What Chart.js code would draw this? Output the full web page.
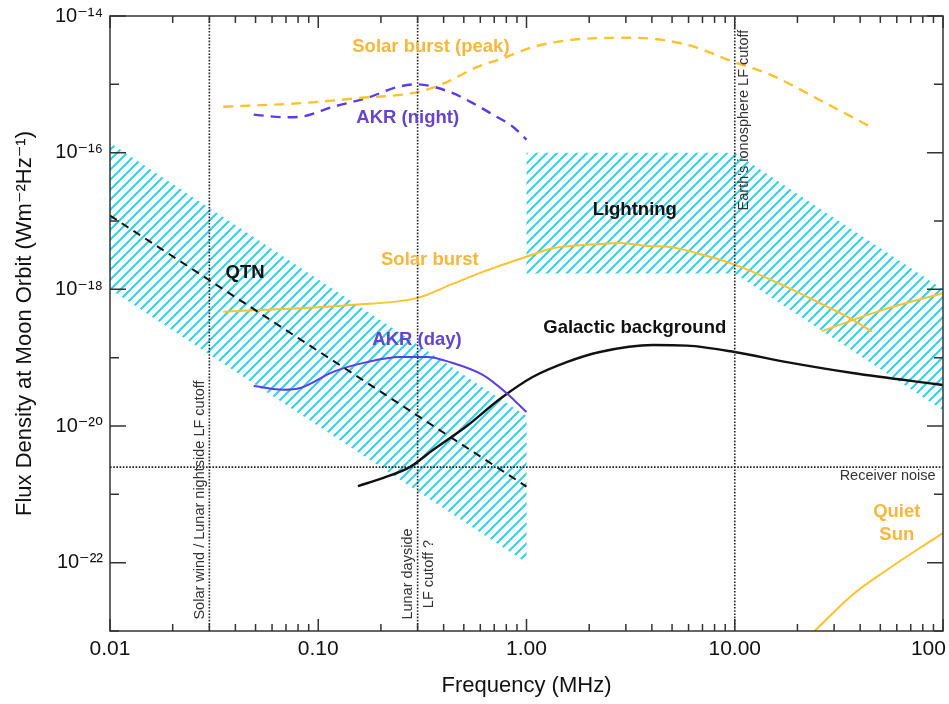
<!DOCTYPE html>
<html><head><meta charset="utf-8">
<script src="https://cdn.jsdelivr.net/npm/chart.js@4.4.1/dist/chart.umd.min.js"></script>
<style>html,body{margin:0;padding:0;background:#fff;}#wrap{width:949px;height:704px;}</style>
</head><body><div id="wrap"><canvas id="c" width="949" height="704"></canvas></div>
<script>
// ---------- data ----------
const xTickValues = [0.01, 0.1, 1, 10, 100];
const xTickLabels = ['0.01', '0.10', '1.00', '10.00', '100'];
const yTickExponents = [-22, -20, -18, -16, -14];

const cutoffFreqs = [0.03, 0.3, 10];
const receiverNoise = 2.5e-21;

const qtnFreq = [0.01, 1];
const qtnFlux = [1.2e-17, 1.3e-21];

const qtnBandFreq = [0.01, 0.01, 1, 1];
const qtnBandFlux = [1e-18, 1.4e-16, 1.4e-20, 1e-22];

const lightningBandFreq = [1, 1, 10, 100, 100, 10];
const lightningBandFlux = [1.7e-18, 1e-16, 1e-16, 1e-18, 1.7e-20, 1.7e-18];

const solarPeakFreq = [0.035, 0.082, 0.158, 0.30, 0.415, 0.58, 0.77, 1.07, 1.67, 3.2, 5.9, 10, 14.7, 25.6, 46];
const solarPeakFlux = [4.7e-16, 5.3e-16, 6.3e-16, 7.7e-16, 1.08e-15, 1.8e-15, 2.4e-15, 3.5e-15, 4.5e-15, 4.8e-15, 3.8e-15, 2.1e-15, 1.4e-15, 5.9e-16, 2.3e-16];

const akrNightFreq = [0.049, 0.07, 0.082, 0.118, 0.171, 0.239, 0.298, 0.43, 0.553, 0.69, 0.86, 1.0];
const akrNightFlux = [3.6e-16, 3.3e-16, 3.35e-16, 4.7e-16, 6.3e-16, 9.1e-16, 1.0e-15, 7.7e-16, 5.3e-16, 3.6e-16, 2.4e-16, 1.55e-16];

const solarBurstFreq = [0.035, 0.082, 0.142, 0.30, 0.43, 0.617, 1.0, 1.34, 2.25, 2.8, 3.9, 4.9, 7.0, 10, 17.8, 25.6, 36.8, 45.5];
const solarBurstFlux = [4.7e-19, 5.3e-19, 5.9e-19, 7.5e-19, 1.16e-18, 1.8e-18, 3.0e-18, 4.0e-18, 4.6e-18, 4.75e-18, 4.3e-18, 4.15e-18, 3.2e-18, 2.3e-18, 1.08e-18, 6.3e-19, 3.6e-19, 2.4e-19];

const solarHighFreq = [26.2, 51.3, 100];
const solarHighFlux = [2.45e-19, 5.0e-19, 8.8e-19];

const akrDayFreq = [0.049, 0.068, 0.082, 0.118, 0.171, 0.247, 0.332, 0.43, 0.617, 0.805, 1.0];
const akrDayFlux = [3.85e-20, 3.4e-20, 3.6e-20, 6.2e-20, 8.6e-20, 1.02e-19, 1.02e-19, 8.6e-20, 5.6e-20, 3.0e-20, 1.6e-20];

const galacticFreq = [0.155, 0.204, 0.275, 0.355, 0.517, 0.745, 1.07, 1.56, 2.25, 4.04, 5.89, 10, 17.8, 36.8, 100];
const galacticFlux = [1.32e-21, 1.73e-21, 2.5e-21, 4.45e-21, 1.0e-20, 2.48e-20, 5.2e-20, 8.6e-20, 1.21e-19, 1.53e-19, 1.5e-19, 1.21e-19, 8.6e-20, 5.96e-20, 3.98e-20];

const quietSunFreq = [24.2, 36.8, 53.7, 77.3, 100];
const quietSunFlux = [1e-23, 3.4e-23, 7.8e-23, 1.64e-22, 2.7e-22];

// ---------- styling ----------
const FONT = '"Liberation Sans", Arial, Helvetica, "DejaVu Sans", sans-serif';
const ORANGE = '#FDC22E';
const ORANGE_TXT = '#F7B73C';
const PURPLE = '#5A3DE4';
const PURPLE_TXT = '#6444D0';
const CYAN = '#2CD3EC';
const INK = '#111';

const pts = (xs, ys) => xs.map((x, i) => ({x, y: ys[i]}));

// hatch pattern
const HS = 10;
const hc = document.createElement('canvas');
hc.width = HS; hc.height = HS;
const hx = hc.getContext('2d');
hx.strokeStyle = CYAN; hx.lineWidth = 2;
hx.beginPath();
hx.moveTo(-1, HS + 1); hx.lineTo(HS + 1, -1);
hx.moveTo(-2, 2); hx.lineTo(2, -2);
hx.moveTo(HS - 2, HS + 2); hx.lineTo(HS + 2, HS - 2);
hx.stroke();
const hatch = hx.createPattern(hc, 'repeat');

function areaDs(xs, ys) {
  return {data: pts(xs, ys), fill: 'shape', backgroundColor: hatch, borderColor: 'rgba(0,0,0,0)',
          borderWidth: 0, pointRadius: 0, tension: 0, order: 20};
}
function lineDs(xs, ys, color, width, dash, smooth) {
  return {data: pts(xs, ys), borderColor: color, borderWidth: width, borderDash: dash || [],
          pointRadius: 0, fill: false, tension: smooth ? 0.4 : 0,
          cubicInterpolationMode: smooth ? 'monotone' : 'default', order: 5};
}

const datasets = [
  areaDs(qtnBandFreq, qtnBandFlux),
  areaDs(lightningBandFreq, lightningBandFlux),
  ...cutoffFreqs.map(f => lineDs([f, f], [1e-23, 1e-14], '#222', 1.6, [1.6, 1.6], false)),
  lineDs([0.01, 100], [receiverNoise, receiverNoise], '#222', 1.6, [1.6, 1.6], false),
  lineDs(qtnFreq, qtnFlux, '#111', 2, [8, 6], false),
  lineDs(solarPeakFreq, solarPeakFlux, ORANGE, 2.4, [10, 7], true),
  lineDs(akrNightFreq, akrNightFlux, PURPLE, 2.4, [10, 7], true),
  lineDs(solarBurstFreq, solarBurstFlux, ORANGE, 2, null, true),
  lineDs(solarHighFreq, solarHighFlux, ORANGE, 2, null, true),
  lineDs(akrDayFreq, akrDayFlux, PURPLE, 2, null, true),
  lineDs(galacticFreq, galacticFlux, '#111', 2.4, null, true),
  lineDs(quietSunFreq, quietSunFlux, ORANGE, 2, null, true),
];

// text annotations (anchored in data coordinates)
const labels = [
  {t: 'Solar burst (peak)', f: 0.3475, v: 3.52e-15, c: ORANGE_TXT},
  {t: 'AKR (night)', f: 0.269, v: 3.21e-16, c: PURPLE_TXT},
  {t: 'Lightning', f: 3.31, v: 1.45e-17, c: INK},
  {t: 'Solar burst', f: 0.3435, v: 2.69e-18, c: ORANGE_TXT},
  {t: 'QTN', f: 0.0445, v: 1.73e-18, c: INK},
  {t: 'AKR (day)', f: 0.298, v: 1.81e-19, c: PURPLE_TXT},
  {t: 'Galactic background', f: 3.31, v: 2.72e-19, c: INK},
  {t: 'Quiet', f: 60, v: 5.51e-22, c: ORANGE_TXT},
  {t: 'Sun', f: 60, v: 2.54e-22, c: ORANGE_TXT},
];
const vLabels = [
  {t: 'Solar wind / Lunar nightside LF cutoff', f: 0.03, dx: -5, v: 8.26e-22},
  {t: 'Lunar dayside', f: 0.3, dx: -5.5, v: 6.82e-23},
  {t: 'LF cutoff ?', f: 0.3, dx: 15, v: 6.82e-23},
  {t: "Earth's ionosphere LF cutoff", f: 10, dx: 13.5, v: 3.0e-16},
];
const noiseLabel = {t: 'Receiver noise', f: 54.2, v: 1.85e-21};

const sup = {'-': '\u207B', '0': '\u2070', '1': '\u00B9', '2': '\u00B2', '3': '\u00B3', '4': '\u2074',
             '5': '\u2075', '6': '\u2076', '7': '\u2077', '8': '\u2078', '9': '\u2079'};
const toSup = s => String(s).split('').map(ch => sup[ch] || ch).join('');

const frame = {
  id: 'frame',
  afterDraw(chart) {
    const {ctx, chartArea: a, scales: {x, y}} = chart;
    ctx.save();
    ctx.strokeStyle = '#333'; ctx.lineWidth = 1.5;
    ctx.strokeRect(a.left, a.top, a.right - a.left, a.bottom - a.top);
    ctx.beginPath();
    for (let d = 0.01; d < 150; d *= 10) {
      for (let m = 1; m <= 9; m++) {
        const val = d * m;
        if (val > 100.0001) break;
        const px = x.getPixelForValue(val);
        const len = m === 1 ? 12 : 7;
        ctx.moveTo(px, a.bottom); ctx.lineTo(px, a.bottom - len);
        ctx.moveTo(px, a.top); ctx.lineTo(px, a.top + len);
      }
    }
    for (let e = -23; e <= -14; e++) {
      const py = y.getPixelForValue(Math.pow(10, e));
      const len = (e % 2 === 0) ? 16 : 9;
      ctx.moveTo(a.left, py); ctx.lineTo(a.left + len, py);
      ctx.moveTo(a.right, py); ctx.lineTo(a.right - len, py);
    }
    ctx.stroke();

    ctx.textAlign = 'center'; ctx.textBaseline = 'middle';
    ctx.font = 'bold 18.5px ' + FONT;
    labels.forEach(l => {
      ctx.fillStyle = l.c;
      ctx.fillText(l.t, x.getPixelForValue(l.f), y.getPixelForValue(l.v));
    });
    ctx.font = '14.5px ' + FONT;
    ctx.fillStyle = '#333';
    ctx.fillText(noiseLabel.t, x.getPixelForValue(noiseLabel.f), y.getPixelForValue(noiseLabel.v));
    ctx.textBaseline = 'alphabetic';
    vLabels.forEach(l => {
      ctx.save();
      ctx.translate(x.getPixelForValue(l.f) + l.dx, y.getPixelForValue(l.v));
      ctx.rotate(-Math.PI / 2);
      ctx.fillText(l.t, 0, 0);
      ctx.restore();
    });
    ctx.restore();
  }
};

new Chart(document.getElementById('c'), {
  type: 'line',
  data: {datasets},
  plugins: [frame],
  options: {
    responsive: false, animation: false, devicePixelRatio: 1,
    layout: {padding: {left: 0, right: 6, top: 16, bottom: 0}},
    plugins: {legend: {display: false}, tooltip: {enabled: false}},
    scales: {
      x: {
        type: 'logarithmic', min: 0.01, max: 100, position: 'bottom',
        afterBuildTicks: s => { s.ticks = xTickValues.map(v => ({value: v})); },
        afterFit: s => { s.height = 73; s.paddingLeft = 0; s.paddingRight = 0; },
        ticks: {callback: (v, i) => i === xTickLabels.length - 1 ? xTickLabels[i] + '     ' : xTickLabels[i],
                autoSkip: false, maxRotation: 0, padding: 6,
                color: INK, font: {family: FONT, size: 21}},
        grid: {display: false, drawTicks: false},
        border: {display: false},
        title: {display: true, text: 'Frequency (MHz)', color: INK, font: {family: FONT, size: 22},
                padding: {top: 0, bottom: 5}}
      },
      y: {
        type: 'logarithmic', min: 1e-23, max: 1e-14,
        afterBuildTicks: s => { s.ticks = yTickExponents.map(e => ({value: Math.pow(10, e)})); },
        afterFit: s => { s.width = 110; s.paddingTop = 0; s.paddingBottom = 0; },
        ticks: {callback: (v, i) => '10' + toSup(yTickExponents[i]), autoSkip: false, padding: 7,
                color: INK, font: {family: FONT, size: 20}},
        grid: {display: false, drawTicks: false},
        border: {display: false},
        title: {display: true, text: 'Flux Density at Moon Orbit (Wm\u207B\u00B2Hz\u207B\u00B9)', color: INK,
                font: {family: FONT, size: 22}, padding: {top: 12, bottom: 0}}
      }
    }
  }
});
</script></body></html>
